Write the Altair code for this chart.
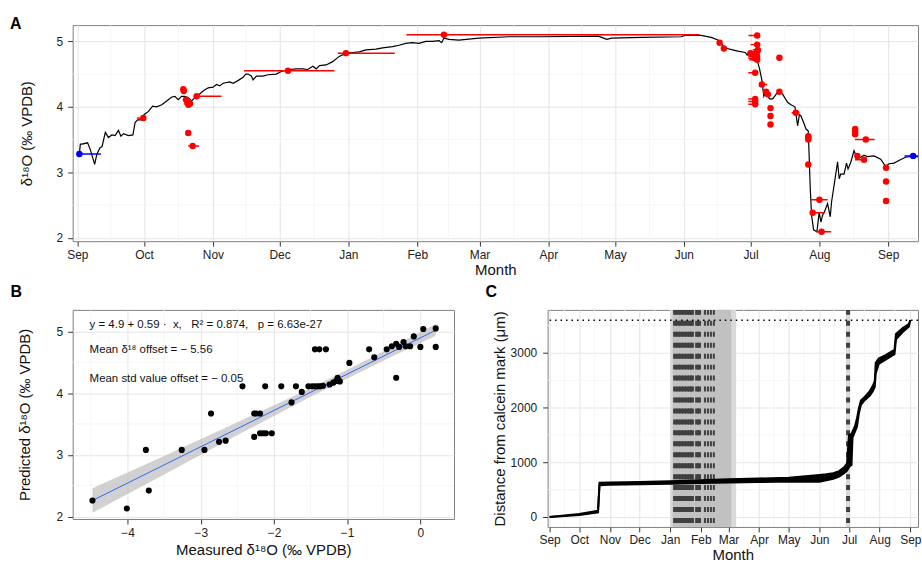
import altair as alt
import pandas as pd

FONT = "Liberation Sans"

# ---------------- shared month ticks (days since 1 Sep) ----------------
month_days = [0, 30, 61, 91, 122, 153, 181, 212, 242, 273, 303, 334, 365]
month_labels = ["Sep", "Oct", "Nov", "Dec", "Jan", "Feb", "Mar", "Apr", "May", "Jun", "Jul", "Aug", "Sep"]

# ---------------- Panel A ----------------
a_line_day = [0.9, 1.35, 2.1, 4.6, 5.8, 7.8, 8.8, 10.3, 11.1, 12.6,
              14.0, 15.5, 17.0, 18.5, 19.6, 20.8, 23.0, 25.0, 26.0, 27.1,
              29.0, 30.0, 32.0, 33.9, 35.7, 38.0, 40.2, 42.5, 43.9, 45.4,
              46.9, 48.4, 49.9, 51.4, 52.9, 55.2, 56.9, 58.9, 61.1, 62.6,
              64.1, 65.6, 68.6, 70.1, 72.3, 74.6, 75.8, 76.8, 78.3, 79.1,
              80.6, 83.5, 85.8, 89.5, 91.8, 95.5, 98.5, 101.5, 103.7, 106.0,
              107.5, 109.0, 112.0, 114.9, 117.9, 120.9, 123.9, 126.9, 129.9, 134.4,
              137.4, 141.8, 144.8, 147.8, 150.8, 153.8, 156.8, 159.8, 162.8, 164.0,
              165.0, 167.3, 171.7, 180.7, 194.2, 209.1, 234.5, 236.0, 238.3, 240.5,
              253.9, 271.9, 273.4, 280.8, 285.3, 288.3, 289.8, 291.3, 293.6, 297.3,
              300.6, 301.5, 302.5, 304.0, 305.8, 307.0, 308.1, 309.0, 310.0, 311.5,
              313.0, 314.5, 316.0, 317.5, 319.7, 321.2, 323.0, 324.2, 325.0, 325.7,
              326.9, 328.0, 329.0, 329.5, 329.9, 330.5, 331.4, 332.9, 333.9, 334.7,
              335.4, 336.2, 337.7, 338.9, 339.5, 340.7, 342.2, 342.9, 343.6, 345.1,
              346.2, 346.9, 348.1, 349.6, 351.1, 352.6, 354.1, 355.6, 358.6, 361.6,
              363.8, 365.3, 367.6, 369.8, 372.8, 376.5, 378.9]
a_line_val = [3.28, 3.43, 3.43, 3.45, 3.35, 3.12, 3.28, 3.38, 3.39, 3.61,
              3.53, 3.57, 3.56, 3.64, 3.55, 3.59, 3.56, 3.57, 3.76, 3.80,
              3.80, 3.88, 3.93, 4.01, 4.00, 4.03, 4.09, 4.15, 4.16, 4.11,
              4.16, 4.16, 4.14, 4.09, 4.14, 4.20, 4.25, 4.29, 4.30, 4.34,
              4.32, 4.36, 4.38, 4.36, 4.40, 4.45, 4.50, 4.50, 4.47, 4.41,
              4.47, 4.47, 4.49, 4.50, 4.54, 4.57, 4.58, 4.58, 4.57, 4.62,
              4.58, 4.63, 4.64, 4.69, 4.77, 4.82, 4.83, 4.84, 4.87, 4.88,
              4.90, 4.92, 4.94, 4.97, 4.98, 4.97, 5.00, 5.00, 5.01, 4.98,
              5.05, 5.03, 5.02, 5.05, 5.07, 5.07, 5.08, 5.06, 5.03, 5.05,
              5.06, 5.07, 5.09, 5.09, 5.06, 5.02, 4.97, 4.91, 4.88, 4.85,
              4.83, 4.79, 4.82, 4.77, 4.73, 4.59, 4.41, 4.16, 4.24, 4.12,
              4.12, 4.19, 4.25, 4.19, 4.07, 4.03, 4.00, 3.71, 3.88, 3.86,
              3.76, 3.66, 3.63, 3.15, 2.75, 2.34, 2.12, 2.09, 2.39, 2.24,
              2.34, 2.39, 2.52, 2.32, 2.55, 2.82, 3.16, 2.90, 2.97, 2.97,
              3.14, 3.05, 3.15, 3.33, 3.20, 3.23, 3.26, 3.24, 3.25, 3.20,
              3.09, 3.13, 3.14, 3.18, 3.23, 3.25, 3.23]

a_obs_day = [29.7, 47.7, 47.9, 48.9, 49.5, 50.7, 50.0, 49.9, 51.9, 53.7,
             94.8, 120.9, 165.0, 289.1, 291.0, 306.0, 306.0, 306.3, 306.0, 303.0,
             305.5, 306.0, 305.0, 306.0, 305.1, 305.1, 305.1, 305.1, 308.1, 310.0,
             310.8, 312.0, 312.0, 312.0, 316.0, 316.0, 323.4, 329.0, 329.0, 329.0,
             329.0, 334.0, 331.0, 335.0, 350.1, 350.1, 350.1, 354.9, 351.1, 354.1,
             364.0, 364.0, 364.0]
a_obs_val = [3.83, 4.27, 4.24, 4.11, 4.06, 4.05, 4.03, 3.60, 3.40, 4.16,
             4.55, 4.82, 5.10, 4.98, 4.89, 5.09, 4.95, 4.87, 4.84, 4.82,
             4.80, 4.77, 4.74, 4.72, 4.52, 4.12, 4.08, 4.04, 4.34, 4.23,
             4.19, 3.98, 3.86, 3.73, 4.75, 4.23, 3.91, 3.55, 3.53, 3.50,
             3.12, 2.58, 2.38, 2.09, 3.66, 3.62, 3.58, 3.50, 3.25, 3.19,
             3.07, 2.86, 2.56]

a_bar_val = [3.83, 3.40, 4.16, 4.55, 4.82, 5.10, 5.09, 4.95, 4.87, 4.84,
             4.82, 4.80, 4.77, 4.74, 4.72, 4.52, 4.12, 4.08, 4.04, 4.34,
             3.91, 2.58, 2.38, 2.09, 3.50, 3.25, 3.19]
a_bar_lo = [26.8, 49.9, 53.7, 75.0, 117.2, 148.1, 302.1, 303.0, 304.0, 302.5,
            301.5, 302.0, 302.0, 302.0, 302.5, 302.0, 302.0, 302.0, 302.0, 308.1,
            321.5, 330.2, 330.9, 332.6, 350.0, 350.0, 350.0]
a_bar_hi = [29.7, 54.8, 64.9, 115.7, 142.9, 280.1, 306.0, 306.0, 306.3, 306.0,
            303.5, 305.5, 306.0, 305.0, 306.0, 305.1, 305.1, 305.1, 305.1, 310.5,
            325.0, 337.7, 336.4, 339.3, 358.9, 351.1, 354.1]

a_std_day = [0.9, 376.2]
a_std_val = [3.28, 3.25]
a_std_lo = [-0.1, 372.3]
a_std_hi = [10.6, 384.0]

a_y_ticks = [2, 3, 4, 5]

# ---------------- Panel B ----------------
b_meas = [-4.48, -4.01, -3.75, -3.71, -3.26, -2.95, -2.86, -2.75, -2.66, -2.43,
          -2.27, -2.27, -2.24, -2.19, -2.19, -2.15, -2.11, -2.12, -2.03, -1.90,
          -1.76, -1.70, -1.62, -1.53, -1.48, -1.44, -1.40, -1.37, -1.33, -1.44,
          -1.38, -1.29, -1.24, -1.19, -1.15, -1.13, -1.13, -1.10, -0.97, -0.70,
          -0.63, -0.46, -0.39, -0.33, -0.33, -0.29, -0.23, -0.20, -0.14, -0.09,
          0.00, 0.04, 0.21, 0.21]
b_pred = [2.26, 2.13, 3.08, 2.42, 3.08, 3.08, 3.67, 3.21, 3.23, 4.11,
          3.29, 3.67, 3.67, 3.67, 3.35, 3.35, 3.35, 4.11, 3.35, 4.11,
          3.85, 4.11, 4.02, 4.11, 4.11, 4.11, 4.11, 4.11, 4.12, 4.71,
          4.71, 4.71, 4.14, 4.17, 4.20, 4.25, 4.20, 4.19, 4.49, 4.71,
          4.58, 4.71, 4.76, 4.80, 4.25, 4.75, 4.83, 4.76, 4.76, 4.92,
          4.75, 5.04, 5.05, 4.75]
b_fit_x = [-4.48, 0.21]
b_fit_y = [2.26, 5.02]
b_band_x = [-4.48, -3.5, -2.5, -1.5, -0.5, 0.21]
b_band_lo = [2.06, 2.68, 3.32, 3.94, 4.53, 4.93]
b_band_hi = [2.46, 2.98, 3.53, 4.08, 4.68, 5.12]
b_x_ticks = [-4, -3, -2, -1, 0]
b_y_ticks = [2, 3, 4, 5]
NB = "\u00a0"
b_text = ["y = 4.9 + 0.59 \u00b7" + NB + " x," + NB + NB + " R\u00b2 = 0.874," + NB + NB + " p = 6.63e-27",
          "Mean \u03b4\u00b9\u2078 offset = \u2212" + NB + "5.56",
          "Mean std value offset = \u2212" + NB + "0.05"]

# ---------------- Panel C ----------------
c_day = [0, 30, 49, 50.5, 61, 91, 122, 153, 181, 212,
         242, 273, 280, 287, 293, 298, 301, 303, 305.5, 306.5,
         309, 311, 313, 315, 318, 324, 327, 329, 330, 333,
         340, 349, 350.5, 357, 363.5, 365]
c_lower = [0, 35, 85, 580, 590, 600, 610, 620, 630, 640,
           650, 645, 670, 700, 740, 800, 850, 920, 950, 1450,
           1560, 1650, 1900, 2050, 2120, 2220, 2300, 2380, 2620, 2800,
           2880, 2980, 3250, 3380, 3480, 3600]
c_upper = [0, 55, 115, 625, 630, 640, 655, 670, 690, 705,
           720, 770, 780, 800, 840, 910, 980, 1500, 1520, 1560,
           1660, 1800, 1990, 2130, 2180, 2300, 2400, 2480, 2820, 2900,
           2960, 3060, 3350, 3450, 3530, 3600]
c_thick_days = [127, 130, 133, 136, 139, 142, 144, 149.3, 151.2, 302]
c_thin_days = [157.2, 160.2, 163.2, 166.2]
c_light_start = [122.0, 300.0]
c_light_end = [188.7, 304.0]
c_dark_start = [124.5]
c_dark_end = [183.7]
c_level = [3600]
c_y_ticks = [0, 1000, 2000, 3000]

# ---------------- helpers ----------------
label_expr = ("[" + ",".join("'%s'" % m for m in month_labels) + "][indexof(["
              + ",".join(str(d) for d in month_days) + "], datum.value)]")
minor_month = [(a + b) / 2 for a, b in zip(month_days[:-1], month_days[1:])]


def mids(ticks):
    return [(a + b) / 2 for a, b in zip(ticks[:-1], ticks[1:])] + [ticks[-1] + (ticks[1] - ticks[0]) / 2,
                                                                 ticks[0] - (ticks[1] - ticks[0]) / 2]


MINOR = "#f4f4f4"
GRID = "#e6e6e6"

# ---------------- Panel A chart ----------------
A_W, A_H = 849, 217
axA_x = alt.Axis(values=month_days, labelExpr=label_expr, title="Month", labelPadding=3, titlePadding=2)
axA_y = alt.Axis(values=a_y_ticks, title="\u03b4\u00b9\u2078O (\u2030 VPDB)", labelPadding=5, titlePadding=22)
scA_x = alt.Scale(domain=[-2.1, 378.4], nice=False, zero=False)
scA_y = alt.Scale(domain=[1.947, 5.248], nice=False, zero=False)


def xA(f):
    return alt.X(f, type="quantitative", scale=scA_x, axis=axA_x)


def yA(f):
    return alt.Y(f, type="quantitative", scale=scA_y, axis=axA_y)


a_minx = alt.Chart(pd.DataFrame({"day": minor_month})).mark_rule(color=MINOR, strokeWidth=0.8).encode(x=xA("day"))
a_miny = alt.Chart(pd.DataFrame({"val": [v for v in mids(a_y_ticks) if 1.95 < v < 5.24]})).mark_rule(
    color=MINOR, strokeWidth=0.8).encode(y=yA("val"))
a_line = alt.Chart(pd.DataFrame({"day": a_line_day, "val": a_line_val})).mark_line(
    color="black", strokeWidth=1.2, clip=True).encode(x=xA("day"), y=yA("val"))
a_bars = alt.Chart(pd.DataFrame({"lo": a_bar_lo, "hi": a_bar_hi, "val": a_bar_val})).mark_rule(
    color="#ff0000", strokeWidth=1.5, clip=True).encode(x=xA("lo"), x2="hi", y=yA("val"))
a_pts = alt.Chart(pd.DataFrame({"day": a_obs_day, "val": a_obs_val})).mark_circle(
    color="#ff0000", size=42, opacity=1).encode(x=xA("day"), y=yA("val"))
a_sbars = alt.Chart(pd.DataFrame({"lo": a_std_lo, "hi": a_std_hi, "val": a_std_val})).mark_rule(
    color="#0000ff", strokeWidth=1.5, clip=True).encode(x=xA("lo"), x2="hi", y=yA("val"))
a_spts = alt.Chart(pd.DataFrame({"day": a_std_day, "val": a_std_val})).mark_circle(
    color="#0000ff", size=42, opacity=1, clip=True).encode(x=xA("day"), y=yA("val"))
a_lab = alt.Chart(pd.DataFrame({"t": ["A"]})).mark_text(
    align="left", baseline="alphabetic", fontSize=16, fontWeight="bold", font=FONT, color="black").encode(
    x=alt.value(-63), y=alt.value(4), text="t:N")

panelA = alt.layer(a_minx, a_miny, a_line, a_bars, a_pts, a_sbars, a_spts, a_lab).properties(width=A_W, height=A_H)

# ---------------- Panel B chart ----------------
B_W, B_H = 383, 210
axB_x = alt.Axis(values=b_x_ticks, title="Measured \u03b4\u00b9\u2078O (\u2030 VPDB)", labelPadding=4, titlePadding=4)
axB_y = alt.Axis(values=b_y_ticks, title="Predicted \u03b4\u00b9\u2078O (\u2030 VPDB)", labelPadding=5, titlePadding=24)
scB_x = alt.Scale(domain=[-4.75, 0.46], nice=False, zero=False)
scB_y = alt.Scale(domain=[1.96, 5.35], nice=False, zero=False)


def xB(f):
    return alt.X(f, type="quantitative", scale=scB_x, axis=axB_x)


def yB(f):
    return alt.Y(f, type="quantitative", scale=scB_y, axis=axB_y)


b_minx = alt.Chart(pd.DataFrame({"m": [v for v in mids(b_x_ticks) if -4.75 < v < 0.46]})).mark_rule(
    color=MINOR, strokeWidth=0.8).encode(x=xB("m"))
b_miny = alt.Chart(pd.DataFrame({"p": [v for v in mids(b_y_ticks) if 1.96 < v < 5.35]})).mark_rule(
    color=MINOR, strokeWidth=0.8).encode(y=yB("p"))
b_band = alt.Chart(pd.DataFrame({"m": b_band_x, "lo": b_band_lo, "hi": b_band_hi})).mark_area(
    color="#b3b3b3", opacity=0.6).encode(x=xB("m"), y=yB("lo"), y2="hi")
b_fit = alt.Chart(pd.DataFrame({"m": b_fit_x, "p": b_fit_y})).mark_line(
    color="#3366ff", strokeWidth=1).encode(x=xB("m"), y=yB("p"))
b_pts = alt.Chart(pd.DataFrame({"m": b_meas, "p": b_pred})).mark_circle(
    color="black", size=38, opacity=1).encode(x=xB("m"), y=yB("p"))
b_txt = [alt.Chart(pd.DataFrame({"t": [s]})).mark_text(
    align="left", baseline="alphabetic", fontSize=11.5, font=FONT, color="#111").encode(
    x=alt.value(17), y=alt.value(yy), text="t:N") for s, yy in zip(b_text, [18.5, 43.5, 72])]
b_lab = alt.Chart(pd.DataFrame({"t": ["B"]})).mark_text(
    align="left", baseline="alphabetic", fontSize=16, fontWeight="bold", font=FONT, color="black").encode(
    x=alt.value(-62.4), y=alt.value(-13.3), text="t:N")

panelB = alt.layer(b_minx, b_miny, b_band, b_fit, b_pts, *b_txt, b_lab).properties(width=B_W, height=B_H)

# ---------------- Panel C chart ----------------
C_W, C_H = 372, 218
axC_x = alt.Axis(values=month_days, labelExpr=label_expr, title="Month", labelPadding=3, titlePadding=2)
axC_y = alt.Axis(values=c_y_ticks, format="d", title="Distance from calcein mark (\u03bcm)",
                 labelPadding=6, titlePadding=3)
scC_x = alt.Scale(domain=[-2, 372.8], nice=False, zero=False)
scC_y = alt.Scale(domain=[-182, 3789], nice=False, zero=False)


def xC(f):
    return alt.X(f, type="quantitative", scale=scC_x, axis=axC_x)


def yC(f):
    return alt.Y(f, type="quantitative", scale=scC_y, axis=axC_y)


c_minx = alt.Chart(pd.DataFrame({"day": minor_month})).mark_rule(color=MINOR, strokeWidth=0.8).encode(x=xC("day"))
c_miny = alt.Chart(pd.DataFrame({"dist": [v for v in mids(c_y_ticks) if -182 < v < 3789]})).mark_rule(
    color=MINOR, strokeWidth=0.8).encode(y=yC("dist"))
c_light = alt.Chart(pd.DataFrame({"s": c_light_start, "e": c_light_end})).mark_rect(
    color="#d9d9d9").encode(x=xC("s"), x2="e", y=alt.value(0), y2=alt.value(C_H))
c_dark = alt.Chart(pd.DataFrame({"s": c_dark_start, "e": c_dark_end})).mark_rect(
    color="#c1c1c1").encode(x=xC("s"), x2="e", y=alt.value(0), y2=alt.value(C_H))
c_thick = alt.Chart(pd.DataFrame({"day": c_thick_days})).mark_rule(
    color="#404040", strokeWidth=4, strokeDash=[5, 6]).encode(x=xC("day"), y=alt.value(0), y2=alt.value(C_H))
c_thin = alt.Chart(pd.DataFrame({"day": c_thin_days})).mark_rule(
    color="#404040", strokeWidth=2, strokeDash=[5, 6]).encode(x=xC("day"), y=alt.value(0), y2=alt.value(C_H))
c_dot = alt.Chart(pd.DataFrame({"dist": c_level})).mark_rule(
    color="black", strokeWidth=1.4, strokeDash=[1.5, 4]).encode(y=yC("dist"))
c_area = alt.Chart(pd.DataFrame({"day": c_day, "lo": c_lower, "hi": c_upper})).mark_area(
    color="black", opacity=1).encode(x=xC("day"), y=yC("lo"), y2="hi")
c_long = pd.concat([
    pd.DataFrame({"day": c_day, "dist": c_lower, "member": "lower"}),
    pd.DataFrame({"day": c_day, "dist": c_upper, "member": "upper"}),
])
c_lines = alt.Chart(c_long).mark_line(color="black", strokeWidth=2).encode(
    x=xC("day"), y=yC("dist"), detail="member:N")
c_lab = alt.Chart(pd.DataFrame({"t": ["C"]})).mark_text(
    align="left", baseline="alphabetic", fontSize=16, fontWeight="bold", font=FONT, color="black").encode(
    x=alt.value(-62.3), y=alt.value(-12.6), text="t:N")

panelC = alt.layer(c_minx, c_miny, c_light, c_dark, c_thick, c_thin, c_dot, c_area, c_lines, c_lab).properties(
    width=C_W, height=C_H)

row = alt.hconcat(panelB, panelC, spacing=94, bounds="flush")
chart = alt.vconcat(panelA, row, spacing=69, bounds="flush").properties(
    padding={"left": 9, "top": 14, "right": 0, "bottom": 0}
).configure_axis(
    labelFont=FONT, titleFont=FONT, labelFontSize=12, titleFontSize=15, titleFontWeight="normal",
    labelColor="#222222", titleColor="#111111", tickColor="#333333", tickSize=5, domain=False,
    gridColor=GRID, gridWidth=1.1
).configure_view(stroke="#7f7f7f", strokeWidth=1)

chart.save("out.html", embed_options={"renderer": "svg", "actions": False})
